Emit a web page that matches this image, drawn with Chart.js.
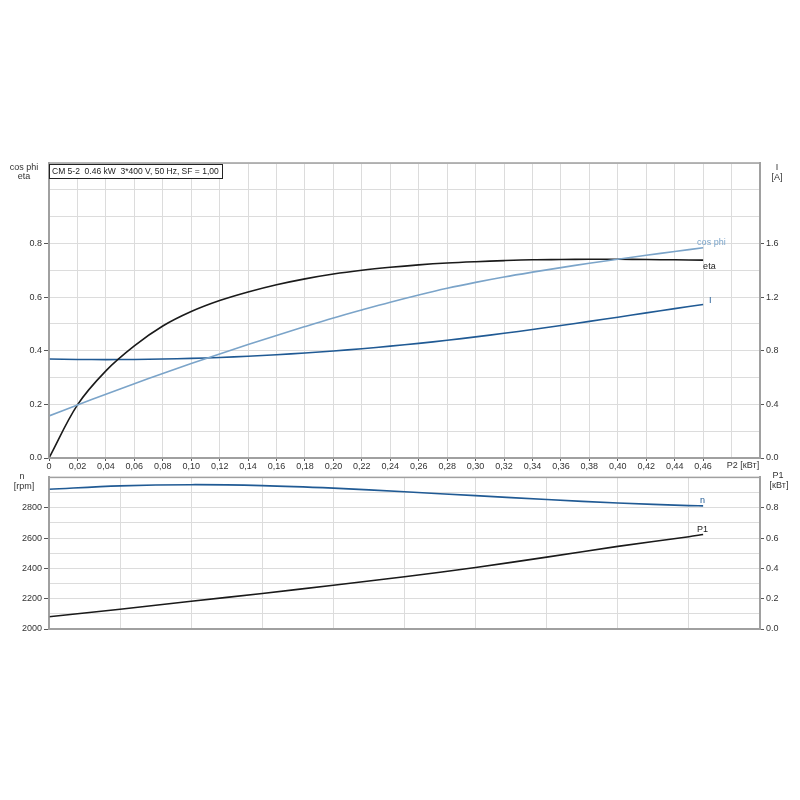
<!DOCTYPE html>
<html>
<head>
<meta charset="utf-8">
<script src="https://cdn.jsdelivr.net/npm/chart.js@4.4.1/dist/chart.umd.min.js"></script>
<style>
  body { margin: 0; background: #fff; }
  canvas { position: absolute; left: 0; }
  #topChart { top: 0; }
  #bottomChart { top: 470px; }
</style>
</head>
<body>
<canvas id="topChart" width="800" height="480"></canvas>
<canvas id="bottomChart" width="800" height="170"></canvas>
<script>
// P2 [kW] positions of the read-off points
const p2Top = [0, 0.02, 0.04, 0.06, 0.08, 0.10, 0.12, 0.14, 0.16, 0.18, 0.20, 0.22,
               0.24, 0.26, 0.28, 0.30, 0.32, 0.34, 0.36, 0.38, 0.40, 0.42, 0.44, 0.46];
const etaVals = [0, 0.198, 0.325, 0.418, 0.492, 0.546, 0.587, 0.619, 0.646, 0.668, 0.686, 0.70,
                 0.711, 0.72, 0.727, 0.732, 0.736, 0.739, 0.740, 0.741, 0.741, 0.740, 0.739, 0.738];
const cosPhiVals = [0.157, 0.198, 0.238, 0.277, 0.315, 0.352, 0.388, 0.423, 0.457, 0.49, 0.522, 0.552,
                    0.581, 0.608, 0.633, 0.655, 0.675, 0.693, 0.710, 0.726, 0.741, 0.756, 0.770, 0.784];
const currentVals = [0.738, 0.735, 0.734, 0.735, 0.738, 0.743, 0.75, 0.759, 0.77, 0.783, 0.798, 0.815,
                     0.834, 0.855, 0.878, 0.903, 0.930, 0.958, 0.988, 1.019, 1.05, 1.082, 1.114, 1.145];

const p2Bottom = [0, 0.05, 0.10, 0.15, 0.20, 0.25, 0.30, 0.35, 0.40, 0.45, 0.46];
const speedVals = [2922, 2944, 2952, 2946, 2929, 2905, 2880, 2854, 2831, 2814, 2812];
const p1Vals = [0.081, 0.13, 0.183, 0.234, 0.289, 0.345, 0.406, 0.474, 0.545, 0.609, 0.623];

const title = 'CM 5-2  0.46 kW  3*400 V, 50 Hz, SF = 1,00';

Chart.defaults.font.family = "'Liberation Sans', Arial, sans-serif";
Chart.defaults.font.size = 9;
Chart.defaults.color = '#333';

const pairs = (xs, ys) => xs.map((x, i) => ({ x: x, y: ys[i] }));
const GRID = '#dcdcdc';
const AXIS = '#a0a0a0';

function fixWidth(w) { return scale => { scale.width = w; }; }
function fixHeight(h) { return scale => { scale.height = h; }; }

// every other tick gets a label and a tick mark, up to a limit
function everyOther(limit, fmt) {
    return (value, index) => (index % 2 === 0 && value <= limit + 1e-9) ? fmt(value) : '';
}
function markColor(limit) {
    return ctx => (ctx.index % 2 === 0 && ctx.tick && ctx.tick.value <= limit + 1e-9) ? '#555' : 'rgba(0,0,0,0)';
}

// texts next to the curve ends, axis captions, frame
const notesPlugin = {
    id: 'notes',
    afterDatasetsDraw(chart) {
        const ctx = chart.ctx;
        ctx.save();
        ctx.font = "9px 'Liberation Sans', Arial, sans-serif";
        ctx.textBaseline = 'middle';
        chart.data.datasets.forEach((ds, i) => {
            const pts = chart.getDatasetMeta(i).data;
            const last = pts[pts.length - 1];
            ctx.fillStyle = ds.borderColor;
            ctx.textAlign = 'left';
            ctx.fillText(ds.label, last.x + ds.endDx, last.y + ds.endDy);
        });
        const a = chart.chartArea;
        ctx.strokeStyle = AXIS;
        ctx.lineWidth = 1.5;
        ctx.strokeRect(a.left, a.top, a.right - a.left, a.bottom - a.top);
        ctx.fillStyle = '#333';
        ctx.textAlign = 'center';
        (chart.options.plugins.notes.texts || []).forEach(t => {
            ctx.fillText(t[0], t[1], t[2]);
        });
        const head = chart.options.plugins.notes.header;
        if (head) {
            ctx.font = "8.5px 'Liberation Sans', Arial, sans-serif";
            const w = Math.ceil(ctx.measureText(head).width) + 6;
            ctx.fillStyle = '#fff';
            ctx.fillRect(a.left, a.top + 1, w, 14);
            ctx.strokeStyle = '#222';
            ctx.lineWidth = 1;
            ctx.strokeRect(a.left + 0.5, a.top + 1.5, w, 14);
            ctx.fillStyle = '#222';
            ctx.textAlign = 'left';
            ctx.fillText(head, a.left + 3, a.top + 8.5);
        }
        ctx.restore();
    }
};

const lineLook = { borderWidth: 1.6, tension: 0.35, fill: false };

const topChart = new Chart(document.getElementById('topChart'), {
    type: 'line',
    data: {
        datasets: [
            { label: 'cos phi', data: pairs(p2Top, cosPhiVals), borderColor: '#7ba4c9', yAxisID: 'y', endDx: -6, endDy: -5 },
            { label: 'eta', data: pairs(p2Top, etaVals), borderColor: '#1a1a1a', yAxisID: 'y', endDx: 0, endDy: 6 },
            { label: 'I', data: pairs(p2Top, currentVals), borderColor: '#205a94', yAxisID: 'yI', endDx: 6, endDy: -4 }
        ]
    },
    options: {
        responsive: false,
        animation: false,
        devicePixelRatio: 1,
        layout: { padding: { top: 163, left: 0, right: 0, bottom: 0 } },
        elements: { point: { radius: 0 }, line: lineLook },
        plugins: {
            legend: { display: false },
            tooltip: { enabled: false },
            notes: {
                header: title,
                texts: [['cos phi', 24, 168], ['eta', 24, 177], ['I', 777, 168], ['[A]', 777, 178], ['P2 [кВт]', 743, 466]]
            }
        },
        scales: {
            x: {
                type: 'linear', min: 0, max: 0.5,
                afterFit: fixHeight(22),
                ticks: {
                    stepSize: 0.02, padding: 0, maxRotation: 0, autoSkip: false,
                    callback: v => v > 0.47 ? '' : (v === 0 ? '0' : v.toFixed(2).replace('.', ','))
                },
                grid: { color: GRID, tickLength: 3, tickColor: ctx => (ctx.tick && ctx.tick.value > 0.47) ? 'rgba(0,0,0,0)' : '#555' },
                border: { color: AXIS, width: 2 }
            },
            y: {
                position: 'left', min: 0, max: 1.1,
                afterFit: fixWidth(49),
                ticks: { stepSize: 0.1, padding: 2, autoSkip: false, callback: everyOther(0.8, v => v.toFixed(1)) },
                grid: { color: GRID, tickLength: 5, tickColor: markColor(0.8) },
                border: { color: AXIS, width: 2 }
            },
            yI: {
                position: 'right', min: 0, max: 2.2,
                afterFit: fixWidth(40),
                ticks: { stepSize: 0.2, padding: 2, autoSkip: false, callback: everyOther(1.6, v => v.toFixed(1)) },
                grid: { drawOnChartArea: false, tickLength: 4, tickColor: markColor(1.6) },
                border: { color: AXIS, width: 2 }
            }
        }
    },
    plugins: [notesPlugin]
});

const bottomChart = new Chart(document.getElementById('bottomChart'), {
    type: 'line',
    data: {
        datasets: [
            { label: 'n', data: pairs(p2Bottom, speedVals), borderColor: '#205a94', yAxisID: 'y', endDx: -3, endDy: -5 },
            { label: 'P1', data: pairs(p2Bottom, p1Vals), borderColor: '#1a1a1a', yAxisID: 'yP', endDx: -6, endDy: -5 }
        ]
    },
    options: {
        responsive: false,
        animation: false,
        devicePixelRatio: 1,
        layout: { padding: { top: 2, left: 0, right: 0, bottom: 0 } },
        elements: { point: { radius: 0 }, line: lineLook },
        plugins: {
            legend: { display: false },
            tooltip: { enabled: false },
            notes: {
                texts: [['n', 22, 7], ['[rpm]', 24, 17], ['P1', 778, 6], ['[кВт]', 779, 16]]
            }
        },
        scales: {
            x: {
                type: 'linear', min: 0, max: 0.5,
                afterFit: fixHeight(11),
                ticks: { stepSize: 0.05, display: false },
                grid: { color: GRID, drawTicks: false },
                border: { color: AXIS, width: 2 }
            },
            y: {
                position: 'left', min: 2000, max: 3000,
                afterFit: fixWidth(49),
                ticks: { stepSize: 100, padding: 2, autoSkip: false, callback: everyOther(2800, v => String(v)) },
                grid: { color: GRID, tickLength: 5, tickColor: markColor(2800) },
                border: { color: AXIS, width: 2 }
            },
            yP: {
                position: 'right', min: 0, max: 1,
                afterFit: fixWidth(40),
                ticks: { stepSize: 0.1, padding: 2, autoSkip: false, callback: everyOther(0.8, v => v.toFixed(1)) },
                grid: { drawOnChartArea: false, tickLength: 4, tickColor: markColor(0.8) },
                border: { color: AXIS, width: 2 }
            }
        }
    },
    plugins: [notesPlugin]
});
</script>
</body>
</html>
